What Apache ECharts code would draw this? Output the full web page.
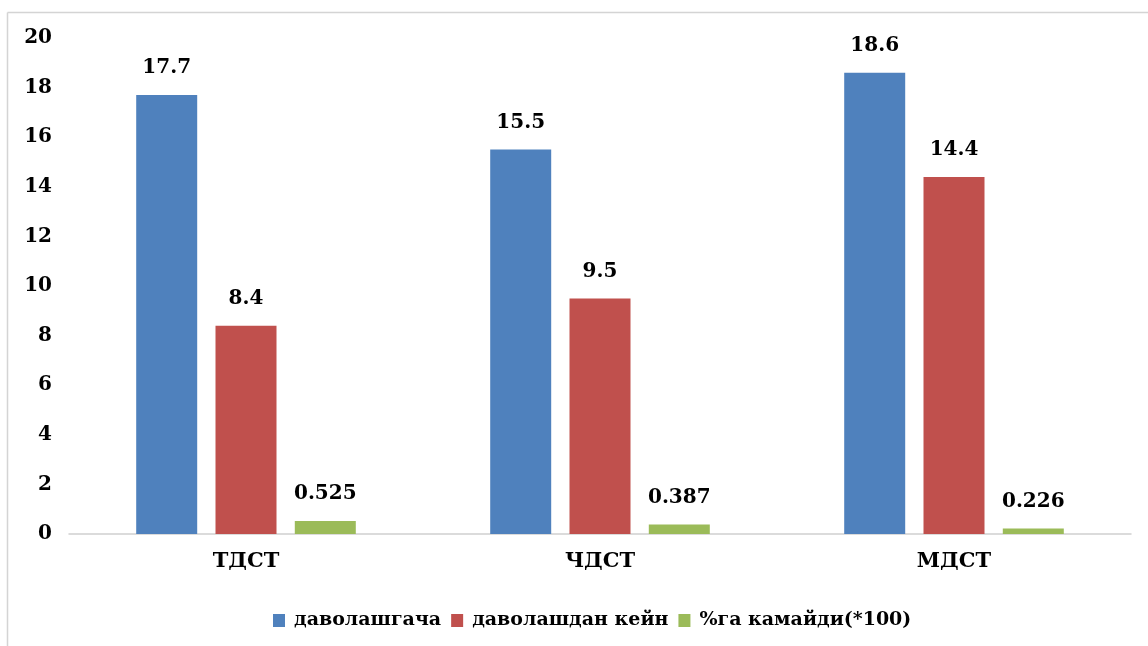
<!DOCTYPE html>
<html>
<head>
<meta charset="utf-8">
<script src="https://cdn.jsdelivr.net/npm/echarts@6/dist/echarts.min.js"></script>
<style>
html,body{margin:0;padding:0;background:#fff;}
#chart{width:1148px;height:646px;}
</style>
</head>
<body>
<div id="chart"></div>
<script>
const categories = ['ТДСТ', 'ЧДСТ', 'МДСТ'];
const seriesNames = ['даволашгача', 'даволашдан кейн', '%га камайди(*100)'];
const beforeValues = [17.7, 15.5, 18.6];
const afterValues = [8.4, 9.5, 14.4];
const decreaseValues = [0.525, 0.387, 0.226];
const yTicks = [0, 2, 4, 6, 8, 10, 12, 14, 16, 18, 20];

const font = 'DejaVu Serif';
const colors = ['#4F81BD', '#C0504D', '#9BBB59'];

const chart = echarts.init(document.getElementById('chart'));
const labelCfg = {
  show: true, position: 'top', distance: 17,
  fontFamily: font, fontWeight: 'bold', fontSize: 20, color: '#000',
  formatter: p => String(p.value)
};
const allValues = [beforeValues, afterValues, decreaseValues];
chart.setOption({
  animation: false,
  backgroundColor: '#fff',
  color: colors,
  graphic: [
    { type: 'line', shape: { x1: 7.5, y1: 12.5, x2: 1148, y2: 12.5 }, style: { stroke: '#d4d4d4', lineWidth: 1.5 } },
    { type: 'line', shape: { x1: 7.5, y1: 12.5, x2: 7.5, y2: 646 }, style: { stroke: '#d4d4d4', lineWidth: 1.5 } }
  ],
  grid: { left: 69, right: 17, top: 38, bottom: 112, containLabel: false },
  legend: {
    top: 606, left: 268,
    itemWidth: 12, itemHeight: 13, itemGap: 10,
    icon: 'rect',
    textStyle: { fontFamily: font, fontWeight: 'bold', fontSize: 19, color: '#000', padding: [0, 0, 0, 4] },
    data: seriesNames
  },
  xAxis: {
    type: 'category', data: categories,
    axisLine: { lineStyle: { color: '#d0d0d0', width: 1.5 } },
    axisTick: { show: false },
    axisLabel: { fontFamily: font, fontWeight: 'bold', fontSize: 21, color: '#000', margin: 17 }
  },
  yAxis: {
    type: 'value', min: yTicks[0], max: yTicks[yTicks.length - 1], interval: yTicks[1] - yTicks[0],
    splitLine: { show: false },
    axisLine: { show: false },
    axisTick: { show: false },
    axisLabel: { fontFamily: font, fontWeight: 'bold', fontSize: 20, color: '#000', margin: 17 }
  },
  series: seriesNames.map((name, i) => ({
    name, type: 'bar', data: allValues[i],
    barWidth: 61, barGap: '30%',
    itemStyle: { color: colors[i] },
    label: labelCfg
  }))
});
</script>
</body>
</html>
